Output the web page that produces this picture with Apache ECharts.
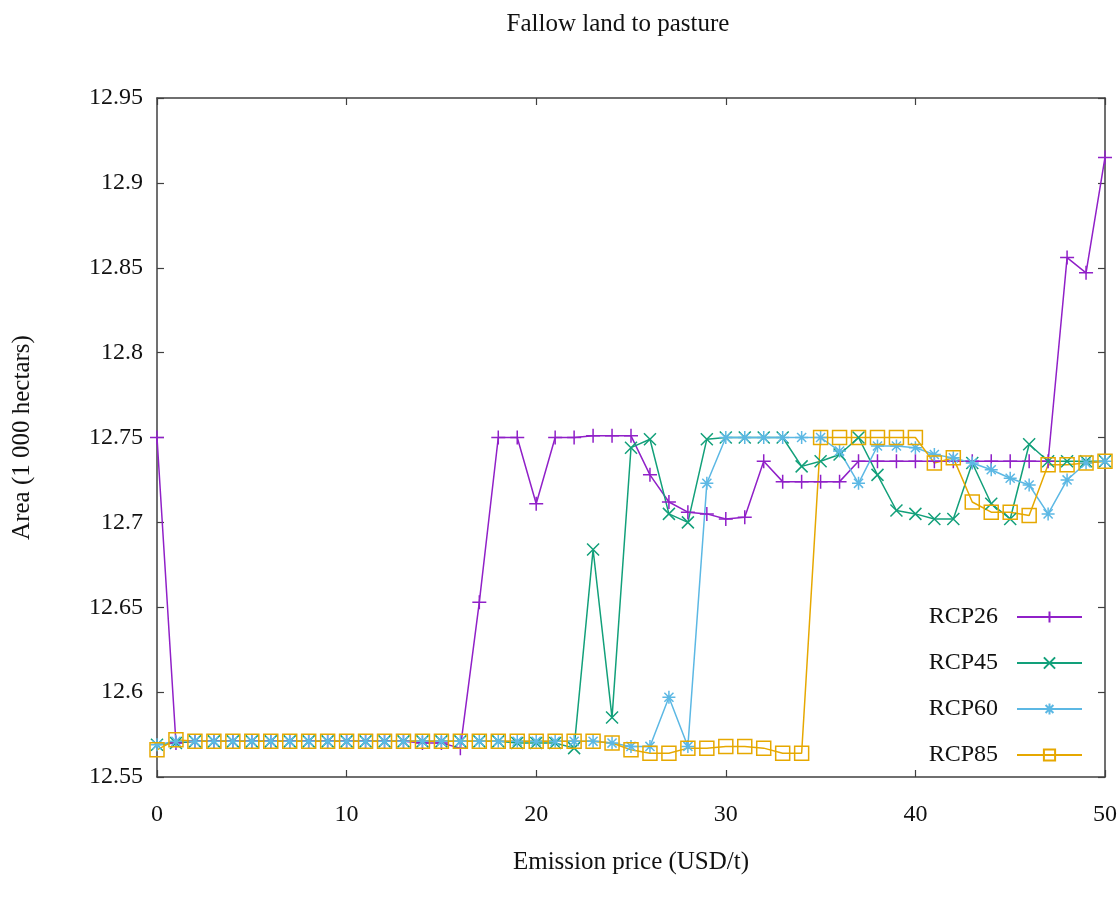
<!DOCTYPE html>
<html>
<head>
<meta charset="utf-8">
<script src="https://cdn.jsdelivr.net/npm/echarts@6/dist/echarts.min.js"></script>
<style>
html,body{margin:0;padding:0;background:#fff;}
#chart{width:1120px;height:905px;}
</style>
</head>
<body>
<div id="chart"></div>
<script>
// Emission price (USD/t), 0..50
var prices = [];
for (var i = 0; i <= 50; i++) prices.push(i);

var seriesNames = ['RCP26', 'RCP45', 'RCP60', 'RCP85'];

var rcp26 = [12.750, 12.570,
  12.571, 12.571, 12.571, 12.571, 12.571, 12.571, 12.571, 12.571, 12.571, 12.571, 12.571, 12.571,
  12.570, 12.570, 12.567, 12.653,
  12.750, 12.750, 12.711, 12.750, 12.750, 12.751, 12.751, 12.751,
  12.728, 12.712, 12.706, 12.705, 12.702, 12.703,
  12.736, 12.724, 12.724, 12.724, 12.724,
  12.736, 12.736, 12.736, 12.736, 12.736, 12.736, 12.736, 12.736, 12.736, 12.736, 12.736,
  12.856, 12.847, 12.915];

var rcp45 = [12.569, 12.570,
  12.571, 12.571, 12.571, 12.571, 12.571, 12.571, 12.571, 12.571, 12.571, 12.571, 12.571, 12.571, 12.571, 12.571, 12.571, 12.571, 12.571,
  12.570, 12.570, 12.570, 12.567, 12.684, 12.585, 12.744, 12.749, 12.705, 12.700,
  12.749, 12.750, 12.750, 12.750, 12.750, 12.733, 12.736, 12.740, 12.750, 12.728,
  12.707, 12.705, 12.702, 12.702, 12.735, 12.711, 12.702, 12.746,
  12.736, 12.736, 12.736, 12.736];

var rcp60 = [12.569, 12.571,
  12.571, 12.571, 12.571, 12.571, 12.571, 12.571, 12.571, 12.571, 12.571, 12.571, 12.571,
  12.571, 12.571, 12.571, 12.571, 12.571, 12.571, 12.571, 12.571, 12.571, 12.571, 12.571,
  12.570, 12.568, 12.568, 12.597, 12.568, 12.723,
  12.750, 12.750, 12.750, 12.750, 12.750, 12.750,
  12.742, 12.723, 12.745, 12.745, 12.744, 12.740, 12.738, 12.735, 12.731, 12.726, 12.722,
  12.705, 12.725, 12.735, 12.736];

var rcp85 = [12.566, 12.572,
  12.571, 12.571, 12.571, 12.571, 12.571, 12.571, 12.571, 12.571, 12.571, 12.571, 12.571,
  12.571, 12.571, 12.571, 12.571, 12.571, 12.571, 12.571, 12.571, 12.571, 12.571, 12.571,
  12.570, 12.566, 12.564, 12.564, 12.567, 12.567, 12.568, 12.568, 12.567, 12.564, 12.564,
  12.750, 12.750, 12.750, 12.750, 12.750, 12.750,
  12.735, 12.738, 12.712, 12.706, 12.706, 12.704,
  12.734, 12.734, 12.735, 12.736];

var xTicks = [0, 10, 20, 30, 40, 50];
var yTicks = [12.55, 12.6, 12.65, 12.7, 12.75, 12.8, 12.85, 12.9, 12.95];

var values = [rcp26, rcp45, rcp60, rcp85];
var colors = ['#9020c8', '#12a07a', '#5cb8e4', '#e6a800'];
var symbols = [
  'path://M0,-1L0,1M-1,0L1,0',
  'path://M-1,-1L1,1M-1,1L1,-1',
  'path://M0,-1L0,1M-1,0L1,0M-0.7,-0.7L0.7,0.7M-0.7,0.7L0.7,-0.7',
  'path://M-1,-1L1,-1L1,1L-1,1Z'
];
var symSizes = [14, 12, 13, 14];

var FONT = 'Liberation Serif';
var axisCol = '#404040';

function pairs(arr) {
  return prices.map(function (p, i) { return [p, arr[i]]; });
}

var series = seriesNames.map(function (name, k) {
  return {
    name: name,
    type: 'line',
    data: pairs(values[k]),
    symbol: symbols[k],
    symbolSize: symSizes[k],
    showSymbol: true,
    showAllSymbol: true,
    animation: false,
    lineStyle: { color: colors[k], width: 1.5 },
    itemStyle: { color: 'rgba(0,0,0,0)', borderColor: colors[k], borderWidth: 1.5 },
    emphasis: { disabled: true }
  };
});

var chart = echarts.init(document.getElementById('chart'), null, { renderer: 'canvas' });
chart.setOption({
  animation: false,
  backgroundColor: '#fff',
  title: {
    text: 'Fallow land to pasture',
    left: 613,
    top: 7,
    textAlign: 'center',
    textStyle: { fontFamily: FONT, fontSize: 25, fontWeight: 'normal', color: '#111' }
  },
  grid: { left: 157, right: 9, top: 98, bottom: 128, show: false },
  legend: {
    orient: 'vertical',
    right: 32,
    top: 600,
    align: 'right',
    itemWidth: 65,
    itemHeight: 14,
    itemGap: 22,
    textStyle: { fontFamily: FONT, fontSize: 24, color: '#111', lineHeight: 24, padding: [0, 14, 0, 0] },
    data: seriesNames
  },
  xAxis: [{
    type: 'value', min: 0, max: 50, interval: 10, position: 'bottom',
    name: 'Emission price (USD/t)', nameLocation: 'middle', nameGap: 73,
    nameTextStyle: { fontFamily: FONT, fontSize: 25, color: '#111' },
    axisLine: { show: true, onZero: false, lineStyle: { color: axisCol, width: 1.5 } },
    axisTick: { show: true, inside: true, length: 7, lineStyle: { color: axisCol, width: 1.2 } },
    axisLabel: { margin: 26, fontFamily: FONT, fontSize: 24, color: '#111',
      customValues: xTicks },
    splitLine: { show: false }
  }, {
    type: 'value', min: 0, max: 50, interval: 10, position: 'top',
    axisLine: { show: true, onZero: false, lineStyle: { color: axisCol, width: 1.5 } },
    axisTick: { show: true, inside: true, length: 7, lineStyle: { color: axisCol, width: 1.2 } },
    axisLabel: { show: false },
    splitLine: { show: false }
  }],
  yAxis: [{
    type: 'value', min: 12.55, max: 12.95, interval: 0.05, position: 'left',
    name: 'Area (1 000 hectars)', nameLocation: 'middle', nameGap: 122,
    nameTextStyle: { fontFamily: FONT, fontSize: 25, color: '#111' },
    axisLine: { show: true, onZero: false, lineStyle: { color: axisCol, width: 1.5 } },
    axisTick: { show: true, inside: true, length: 7, lineStyle: { color: axisCol, width: 1.2 } },
    axisLabel: { margin: 14, fontFamily: FONT, fontSize: 24, color: '#111',
      formatter: function (v) { return String(Math.round(v * 100) / 100); } },
    splitLine: { show: false }
  }, {
    type: 'value', min: 12.55, max: 12.95, interval: 0.05, position: 'right',
    axisLine: { show: true, onZero: false, lineStyle: { color: axisCol, width: 1.5 } },
    axisTick: { show: true, inside: true, length: 7, lineStyle: { color: axisCol, width: 1.2 } },
    axisLabel: { show: false },
    splitLine: { show: false }
  }],
  series: series
});
</script>
</body>
</html>
